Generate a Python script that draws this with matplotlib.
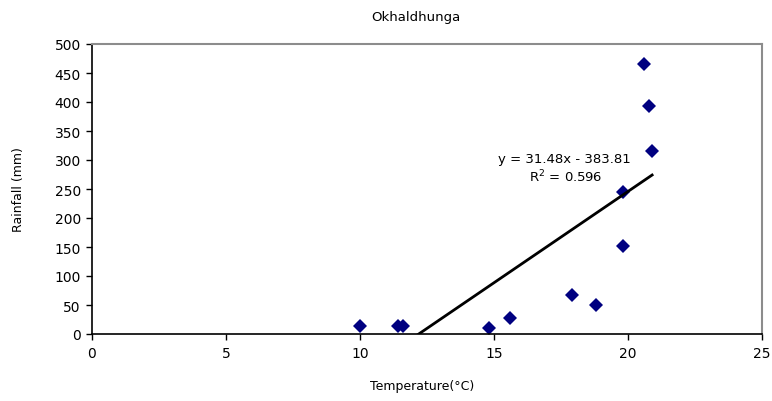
import numpy as np
from matplotlib import pyplot as plt

# data
temp = [10.0, 11.4, 11.6, 14.8, 15.6, 17.9, 18.8, 19.8, 19.8, 20.6, 20.8, 20.9]
rain = [13, 14, 14, 10, 27, 67, 50, 152, 245, 466, 393, 315]

# excel trendline
slope = 31.48
intercept = -383.81
r2 = 0.596

xticks = [0, 5, 10, 15, 20, 25]
yticks = [0, 50, 100, 150, 200, 250, 300, 350, 400, 450, 500]

fig = plt.figure(figsize=(7.72, 4.02), dpi=100)
ax = fig.add_axes([92/772, 67/402, 670/772, 290/402])

ax.plot(temp, rain, 'D', color='#000080', markersize=6.8, markeredgewidth=0)

# trend line over data range (clipped at y=0 by the axis)
xt = np.array([min(temp), max(temp)])
ax.plot(xt, slope * xt + intercept, color='black', linewidth=2)

ax.set_xlim(0, 25)
ax.set_ylim(0, 500)
ax.set_xticks(xticks)
ax.set_yticks(yticks)
ax.tick_params(direction='out', length=4, width=1, labelsize=10, color='black')
ax.tick_params(axis='x', pad=5)
ax.tick_params(axis='y', pad=4)

for s in ['left', 'bottom']:
    ax.spines[s].set_color('black')
    ax.spines[s].set_linewidth(1.2)
for s in ['top', 'right']:
    ax.spines[s].set_color('#8c8c8c')
    ax.spines[s].set_linewidth(1.5)

eq = 'y = %.2fx - %.2f' % (slope, -intercept)
ax.text((564-92)/670, (335-160)/290, eq, transform=ax.transAxes,
        ha='center', va='center', fontsize=9.5)
ax.text((566-92)/670, (335-177)/290, 'R$^2$ = %.3f' % r2, transform=ax.transAxes,
        ha='center', va='center', fontsize=9.5)

ax.set_xlabel('Temperature(°C)', fontsize=9, va='center')
ax.xaxis.set_label_coords((422-92)/670, -(387-335)/290)
ax.set_ylabel('Rainfall (mm)', fontsize=9, va='center')
ax.yaxis.set_label_coords((19-92)/670, 0.5)

fig.text(416/772, 1 - 17/402, 'Okhaldhunga', ha='center', va='center', fontsize=9.5)

plt.savefig('out.png', dpi=100)
